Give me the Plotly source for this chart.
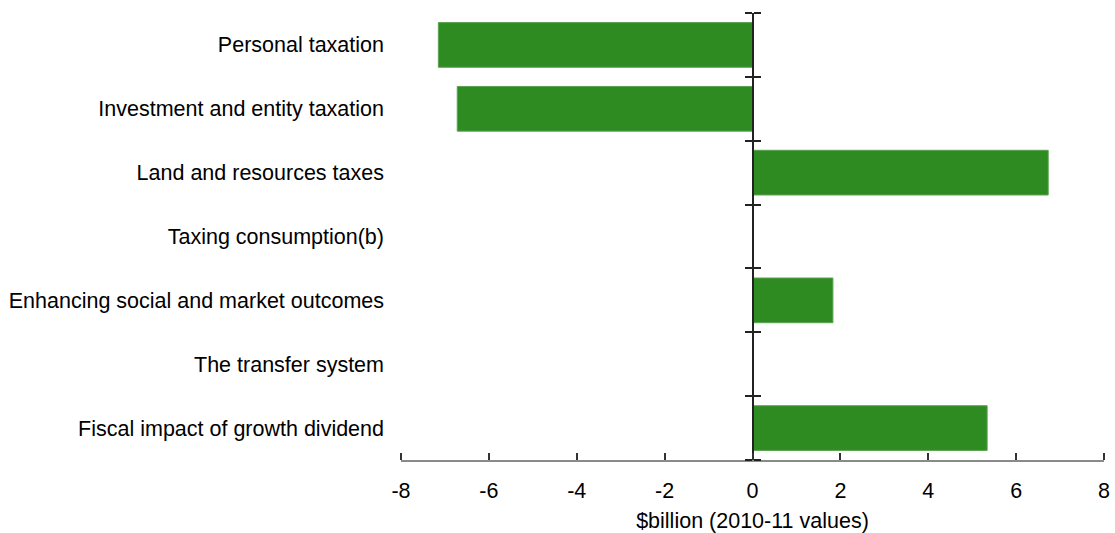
import plotly.graph_objects as go

categories = ["Personal taxation", "Investment and entity taxation", "Land and resources taxes",
              "Taxing consumption(b)", "Enhancing social and market outcomes", "The transfer system",
              "Fiscal impact of growth dividend"]
values = [-7.15, -6.72, 6.73, 0, 1.83, 0, 5.34]
x_ticks = [-8, -6, -4, -2, 0, 2, 4, 6, 8]
x_tick_text = ["-8", "-6", "-4", "-2", "0", "2", "4", "6", "8"]
boundaries = [-0.5, 0.5, 1.5, 2.5, 3.5, 4.5, 5.5, 6.5]

FONT = "Liberation Sans, Arial, sans-serif"
FS = 21.5

fig = go.Figure()
fig.add_trace(go.Bar(
    y=categories, x=values, orientation="h",
    marker=dict(color="#2e8b22", line=dict(color="#5aa24e", width=1)),
    width=0.7, showlegend=False, hoverinfo="x+y",
))
# invisible helpers so the crossing tick axes at x=0 are drawn
for ax in ["y2", "y3"]:
    fig.add_trace(go.Scatter(x=[0, 0], y=[-0.5, 6.5], yaxis=ax, mode="lines",
                             line=dict(color="rgba(0,0,0,0)"), showlegend=False, hoverinfo="skip"))
# invisible helper for the upward-pointing x ticks (incl. the end ticks)
fig.add_trace(go.Scatter(x=[-8, 8], y=[categories[0], categories[-1]], xaxis="x2", mode="lines",
                         line=dict(color="rgba(0,0,0,0)"), showlegend=False, hoverinfo="skip"))

fig.update_layout(
    width=1115, height=533,
    margin=dict(l=401, r=11, t=13, b=73, autoexpand=False),
    plot_bgcolor="white", paper_bgcolor="white",
    font=dict(family=FONT, size=FS, color="black"),
    bargap=0.3,
    xaxis=dict(
        range=[-8, 8], tickvals=x_ticks, ticktext=x_tick_text,
        ticks="",
        showline=True, linecolor="#8a8a8a", linewidth=2, showgrid=False,
        zeroline=False, tickfont=dict(size=FS, family=FONT), automargin=False,
        ticklabelstandoff=10,
        title=dict(text="$billion (2010-11 values)", font=dict(size=FS, family=FONT), standoff=11),
    ),
    xaxis2=dict(
        overlaying="x", anchor="free", position=0, side="top",
        range=[-8, 8], tickvals=x_ticks, showticklabels=False,
        ticks="outside", ticklen=7, tickcolor="#333", tickwidth=1.5,
        showline=False, showgrid=False, zeroline=False, automargin=False,
    ),
    yaxis=dict(
        type="category", categoryarray=categories, categoryorder="array",
        range=[6.5, -0.5], showline=False, showgrid=False, ticks="",
        ticklabelstandoff=16, tickfont=dict(size=FS, family=FONT), automargin=False,
    ),
    yaxis2=dict(
        overlaying="y", anchor="free", position=0.5, side="left",
        range=[6.5, -0.5], tickvals=boundaries, showticklabels=False,
        ticks="outside", ticklen=7, tickcolor="#222", tickwidth=1.5,
        showline=True, linecolor="#222", linewidth=1.5, showgrid=False, zeroline=False,
        automargin=False,
    ),
    yaxis3=dict(
        overlaying="y", anchor="free", position=0.5, side="right",
        range=[6.5, -0.5], tickvals=boundaries, showticklabels=False,
        ticks="outside", ticklen=7, tickcolor="#222", tickwidth=1.5,
        showline=False, showgrid=False, zeroline=False, automargin=False,
    ),
)

fig.write_html("out.html", config={"displayModeBar": False},
               post_script="document.body.style.margin='0';")
